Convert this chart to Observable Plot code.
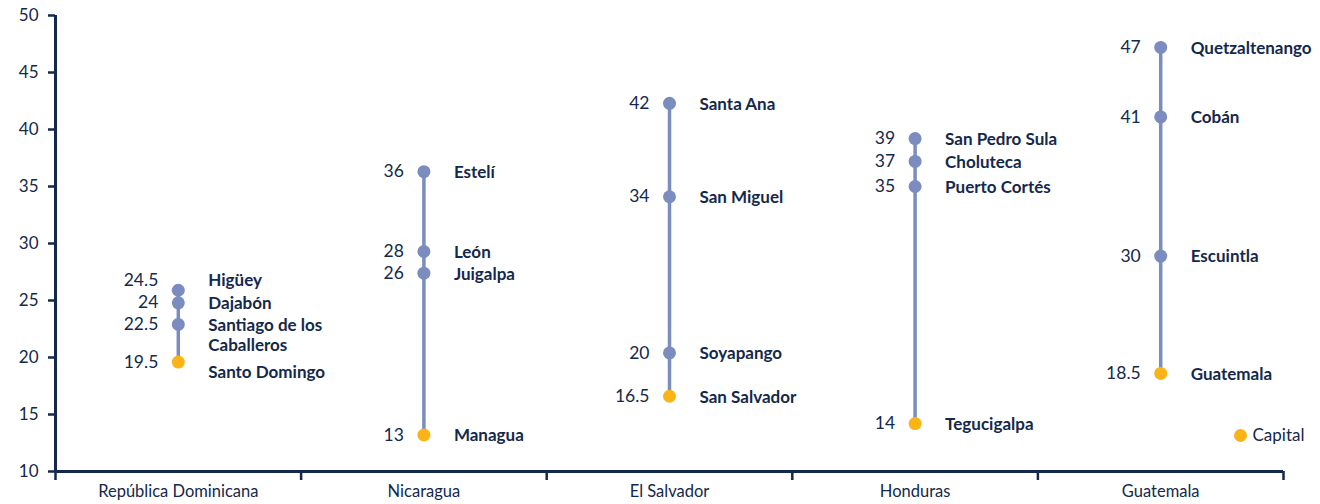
<!DOCTYPE html>
<html>
<head>
<meta charset="utf-8">
<script src="https://cdn.jsdelivr.net/npm/d3@7"></script>
<script src="https://cdn.jsdelivr.net/npm/@observablehq/plot@0.6"></script>
<style>
  html, body { margin: 0; padding: 0; background: #fff; }
  #chart svg { display: block; }
</style>
</head>
<body>
<div id="chart"></div>
<script>
// Countries (x categories)
const countries = ["República Dominicana", "Nicaragua", "El Salvador", "Honduras", "Guatemala"];

// Cities per country
const cityCountry = [
  "República Dominicana", "República Dominicana", "República Dominicana", "República Dominicana",
  "Nicaragua", "Nicaragua", "Nicaragua", "Nicaragua",
  "El Salvador", "El Salvador", "El Salvador", "El Salvador",
  "Honduras", "Honduras", "Honduras", "Honduras",
  "Guatemala", "Guatemala", "Guatemala", "Guatemala"
];
const cityNames = [
  "Higüey", "Dajabón", "Santiago de los\nCaballeros", "Santo Domingo",
  "Estelí", "León", "Juigalpa", "Managua",
  "Santa Ana", "San Miguel", "Soyapango", "San Salvador",
  "San Pedro Sula", "Choluteca", "Puerto Cortés", "Tegucigalpa",
  "Quetzaltenango", "Cobán", "Escuintla", "Guatemala"
];
// Printed values
const valueLabels = [
  "24.5", "24", "22.5", "19.5",
  "36", "28", "26", "13",
  "42", "34", "20", "16.5",
  "39", "37", "35", "14",
  "47", "41", "30", "18.5"
];
// Plotted dot values (as placed in the picture)
const dotValues = [
  25.9, 24.8, 22.9, 19.6,
  36.3, 29.3, 27.4, 13.2,
  42.3, 34.1, 20.4, 16.6,
  39.2, 37.2, 35.0, 14.2,
  47.2, 41.1, 28.9, 18.6
];
// Where the name labels sit on the value axis
const nameAt = [
  26.8, 24.8, 22.0, 18.8,
  36.3, 29.3, 27.4, 13.2,
  42.3, 34.1, 20.4, 16.6,
  39.2, 37.2, 35.0, 14.2,
  47.2, 41.1, 28.9, 18.6
];
// Where the number labels sit on the value axis
const numberAt = [
  26.8, 24.8, 22.9, 19.6,
  36.3, 29.3, 27.4, 13.2,
  42.3, 34.1, 20.4, 16.6,
  39.2, 37.2, 35.0, 14.2,
  47.2, 41.1, 28.9, 18.6
];
const isCapital = [
  false, false, false, true,
  false, false, false, true,
  false, false, false, true,
  false, false, false, true,
  false, false, false, true
];
const yTicks = [10, 15, 20, 25, 30, 35, 40, 45, 50];

const NAVY = "#14284b";
const LINE = "#7b8cbf";
const CAP = "#fbb416";
const FONT = "Lato, 'Open Sans', sans-serif";

const idx = c => countries.indexOf(c) + 0.5;
const rows = cityNames.map((name, i) => ({
  country: cityCountry[i],
  xi: idx(cityCountry[i]),
  name,
  label: valueLabels[i],
  value: dotValues[i],
  nameY: nameAt[i],
  numY: numberAt[i],
  capital: isCapital[i]
}));
const ranges = countries.map(c => {
  const v = rows.filter(r => r.country === c).map(r => r.value);
  return {xi: idx(c), lo: d3.min(v), hi: d3.max(v)};
});

const chart = Plot.plot({
  width: 1320,
  height: 504,
  marginLeft: 55,
  marginRight: 37,
  marginTop: 15,
  marginBottom: 33,
  style: {fontFamily: FONT, color: NAVY, background: "#fff", overflow: "visible"},
  x: {domain: [0, countries.length], axis: null},
  y: {domain: [10, 50], axis: null},
  marks: [
    // y axis
    Plot.axisY({ticks: yTicks, tickSize: 7, tickPadding: 10, stroke: NAVY, strokeWidth: 2.5,
      fontSize: 17, fill: NAVY, tickFormat: d => d, label: null}),
    Plot.ruleX([0], {stroke: NAVY, strokeWidth: 3}),
    // x axis
    Plot.axisX({ticks: d3.range(countries.length + 1), tickSize: 9, tickFormat: () => "",
      stroke: NAVY, strokeWidth: 2.5, label: null}),
    Plot.axisX({ticks: countries.map((c, i) => i + 0.5), tickSize: 0, tickPadding: 14,
      tickFormat: d => countries[Math.round(d - 0.5)], fontSize: 16.5, fill: NAVY, label: null}),
    Plot.ruleY([10], {stroke: NAVY, strokeWidth: 3}),
    // ranges
    Plot.ruleX(ranges, {x: "xi", y1: "lo", y2: "hi", stroke: LINE, strokeWidth: 3.5}),
    // dots
    Plot.dot(rows, {x: "xi", y: "value", r: 6.5, fill: d => d.capital ? CAP : LINE, stroke: null}),
    // number labels
    Plot.text(rows, {x: "xi", y: "numY", text: "label", textAnchor: "end", dx: -20,
      fontSize: 17.5, fill: NAVY}),
    // name labels
    Plot.text(rows, {x: "xi", y: "nameY", text: "name", textAnchor: "start", dx: 30,
      lineAnchor: "middle", lineHeight: 1.17, fontSize: 17, fontWeight: "bold", fill: NAVY}),
    // legend
    Plot.dot([0], {frameAnchor: "bottom-right", dx: -43, dy: -36, r: 6.5, fill: CAP}),
    Plot.text(["Capital"], {frameAnchor: "bottom-right", dx: -31, dy: -36, textAnchor: "start",
      lineAnchor: "middle", fontSize: 17, fill: NAVY})
  ]
});
document.getElementById("chart").append(chart);
</script>
</body>
</html>
